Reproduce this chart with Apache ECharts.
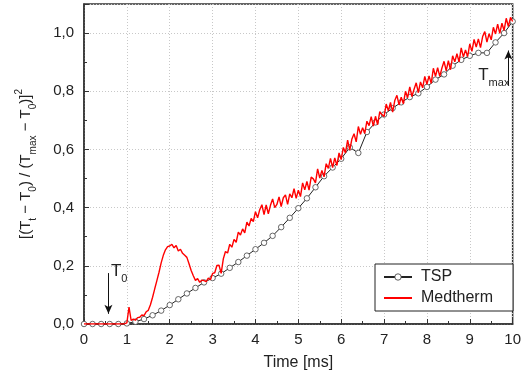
<!DOCTYPE html>
<html>
<head>
<meta charset="utf-8">
<script src="https://cdn.jsdelivr.net/npm/echarts@6/dist/echarts.min.js"></script>
<style>
  html, body { margin: 0; padding: 0; background: #fff; }
  #chart { width: 524px; height: 379px; }
</style>
</head>
<body>
<div id="chart"></div>
<script>
// TSP: sampled every 0.2 ms from 0 to 10 ms
const tspStep = 0.2
const tspValues = [
  0, 0, 0, 0, 0, 0.002, 0.008, 0.017, 0.03, 0.046,
  0.065, 0.085, 0.105, 0.124, 0.143, 0.158, 0.173, 0.193, 0.213, 0.235,
  0.257, 0.279, 0.303, 0.333, 0.365, 0.398, 0.432, 0.47, 0.508, 0.538,
  0.568, 0.607, 0.588, 0.66, 0.693, 0.72, 0.742, 0.762, 0.78, 0.793,
  0.815, 0.84, 0.858, 0.888, 0.908, 0.922, 0.932, 0.932, 0.968, 1.0,
  1.04
]

// Medtherm: sampled every 0.05 ms from 0 to 10 ms (one row per ms)
const medStep = 0.05
const medValues = [
  0, 0, 0, 0, 0, 0, 0, 0, 0, 0, 0, 0, 0, 0, 0, 0, 0, 0, 0, 0.001,
  0.004, 0.058, 0.012, 0.017, 0.013, 0.022, 0.023, 0.031, 0.029, 0.042, 0.047, 0.066, 0.092, 0.121, 0.149, 0.178, 0.21, 0.236, 0.255, 0.266,
  0.268, 0.274, 0.262, 0.27, 0.251, 0.257, 0.243, 0.236, 0.229, 0.207, 0.184, 0.166, 0.15, 0.156, 0.143, 0.151, 0.149, 0.146, 0.158, 0.152,
  0.174, 0.176, 0.201, 0.202, 0.174, 0.224, 0.249, 0.244, 0.274, 0.264, 0.291, 0.281, 0.316, 0.306, 0.327, 0.313, 0.35, 0.337, 0.363, 0.352,
  0.386, 0.365, 0.393, 0.41, 0.376, 0.409, 0.379, 0.408, 0.43, 0.4, 0.411, 0.437, 0.404, 0.434, 0.444, 0.411, 0.447, 0.434, 0.465, 0.432,
  0.46, 0.438, 0.485, 0.461, 0.49, 0.46, 0.505, 0.499, 0.485, 0.533, 0.502, 0.528, 0.506, 0.551, 0.535, 0.569, 0.538, 0.571, 0.545, 0.588,
  0.565, 0.607, 0.588, 0.632, 0.598, 0.636, 0.654, 0.626, 0.679, 0.652, 0.675, 0.655, 0.697, 0.682, 0.713, 0.68, 0.714, 0.685, 0.73, 0.72,
  0.713, 0.756, 0.733, 0.762, 0.728, 0.768, 0.786, 0.753, 0.78, 0.757, 0.8, 0.778, 0.815, 0.782, 0.807, 0.829, 0.795, 0.832, 0.812, 0.851,
  0.824, 0.853, 0.827, 0.879, 0.851, 0.881, 0.851, 0.88, 0.903, 0.87, 0.905, 0.874, 0.922, 0.901, 0.929, 0.901, 0.949, 0.918, 0.942, 0.919,
  0.963, 0.937, 0.978, 0.952, 0.98, 0.95, 0.988, 1.005, 0.969, 0.998, 0.977, 1.02, 0.997, 1.031, 0.999, 1.034, 1.009, 1.051, 1.022, 1.054,
  1.04
]

const xTicks = [0, 1, 2, 3, 4, 5, 6, 7, 8, 9, 10]
const yTicks = [0, 0.2, 0.4, 0.6, 0.8, 1.0]

// annotation arrows [x, yFrom, yTo] in data units
const t0Arrow = [0.57, 0.175, 0.035]
const tmaxArrow = [9.9, 0.82, 0.94]

const FONT = '"Liberation Sans", Arial, sans-serif'
const INK = '#222'

function toPairs(values, step) {
  return values.map((v, i) => [+(i * step).toFixed(2), v])
}

function comma(v) {
  return v.toFixed(1).replace('.', ',')
}

const chart = echarts.init(document.getElementById('chart'), null, { renderer: 'canvas' })

const option = {
  animation: false,
  backgroundColor: '#fff',
  textStyle: { fontFamily: FONT },
  grid: {
    left: 84, top: 4, right: 9, bottom: 55,
    show: true,
    borderColor: '#333',
    borderWidth: 1.5,
    backgroundColor: 'transparent'
  },
  legend: {
    orient: 'vertical',
    left: 375,
    top: 264,
    padding: [5, 20, 5, 8],
    itemWidth: 28,
    itemHeight: 8,
    itemGap: 5,
    borderColor: '#222',
    borderWidth: 1,
    backgroundColor: '#fff',
    data: [
      { name: 'TSP', itemStyle: { borderWidth: 0.8, borderColor: '#333' } },
      { name: 'Medtherm', itemStyle: { opacity: 0 } }
    ],
    textStyle: { fontFamily: FONT, fontSize: 16, color: INK, padding: [0, 0, 0, 4] }
  },
  xAxis: {
    type: 'value',
    min: xTicks[0],
    max: xTicks[xTicks.length - 1],
    interval: 1,
    name: 'Time [ms]',
    nameLocation: 'middle',
    nameGap: 31,
    nameTextStyle: { fontFamily: FONT, fontSize: 16, color: INK },
    axisLine: { show: true, onZero: false, lineStyle: { color: '#333', width: 1.5 } },
    axisTick: { show: true, inside: true, length: 5, lineStyle: { color: '#333' } },
    minorTick: { show: true, splitNumber: 2, length: 3, lineStyle: { color: '#333' } },
    axisLabel: { fontFamily: FONT, fontSize: 15, color: INK, margin: 8 },
    splitLine: { show: true, lineStyle: { color: '#c8c8c8', type: [1, 2], width: 1 } }
  },
  yAxis: {
    type: 'value',
    min: 0,
    max: 1.1,
    interval: 0.2,
    name: '{a|[(T}{s|t}{a| − T}{s|0}{a|) / (T}{s|max}{a| − T}{s|0}{a|)]}{p|2}',
    nameLocation: 'middle',
    nameRotate: 90,
    nameGap: 46,
    nameTextStyle: {
      fontFamily: FONT,
      color: INK,
      rich: {
        a: { fontFamily: FONT, fontSize: 15, color: INK, lineHeight: 24 },
        s: { fontFamily: FONT, fontSize: 10, color: INK, lineHeight: 10, verticalAlign: 'bottom' },
        p: { fontFamily: FONT, fontSize: 10, color: INK, lineHeight: 10, verticalAlign: 'top' }
      }
    },
    axisLine: { show: true, onZero: false, lineStyle: { color: '#333', width: 1.5 } },
    axisTick: { show: true, inside: true, length: 5, lineStyle: { color: '#333' } },
    minorTick: { show: true, splitNumber: 2, length: 3, lineStyle: { color: '#333' } },
    axisLabel: {
      fontFamily: FONT, fontSize: 15, color: INK, margin: 10,
      formatter: (v) => yTicks.some(t => Math.abs(t - v) < 1e-6) ? comma(v) : ''
    },
    splitLine: { show: true, lineStyle: { color: '#c8c8c8', type: [1, 2], width: 1 } }
  },
  series: [
    {
      name: 'TSP',
      type: 'line',
      data: toPairs(tspValues, tspStep),
      symbol: 'circle',
      symbolSize: 5.5,
      showAllSymbol: true,
      lineStyle: { color: '#222', width: 1 },
      itemStyle: { color: '#fff', borderColor: '#444', borderWidth: 0.8 },
      z: 2
    },
    {
      name: 'Medtherm',
      type: 'line',
      data: toPairs(medValues, medStep),
      symbol: 'none',
      color: '#ff0000',
      lineStyle: { color: '#ff0000', width: 1.4 },
      z: 3
    },
    {
      name: 'notes',
      type: 'line',
      data: [],
      silent: true,
      markLine: {
        silent: true,
        animation: false,
        symbol: ['none', 'arrow'],
        symbolSize: [6, 9],
        label: { show: false },
        lineStyle: { color: '#111', width: 1, type: 'solid' },
        data: [
          [{ coord: [t0Arrow[0], t0Arrow[1]] }, { coord: [t0Arrow[0], t0Arrow[2]] }],
          [{ coord: [tmaxArrow[0], tmaxArrow[1]] }, { coord: [tmaxArrow[0], tmaxArrow[2]] }]
        ]
      },
      markPoint: {
        silent: true,
        symbol: 'circle',
        symbolSize: 0,
        label: {
          show: true,
          position: 'inside',
          color: INK,
          rich: {
            a: { fontFamily: FONT, fontSize: 17, color: INK, lineHeight: 26 },
            s: { fontFamily: FONT, fontSize: 11, color: INK, lineHeight: 11, verticalAlign: 'bottom' }
          }
        },
        data: [
          { coord: [0.82, 0.182], label: { formatter: '{a|T}{s|0}' } },
          { coord: [9.56, 0.855], label: { formatter: '{a|T}{s|max}' } }
        ]
      }
    }
  ]
}

chart.setOption(option)
</script>
</body>
</html>
